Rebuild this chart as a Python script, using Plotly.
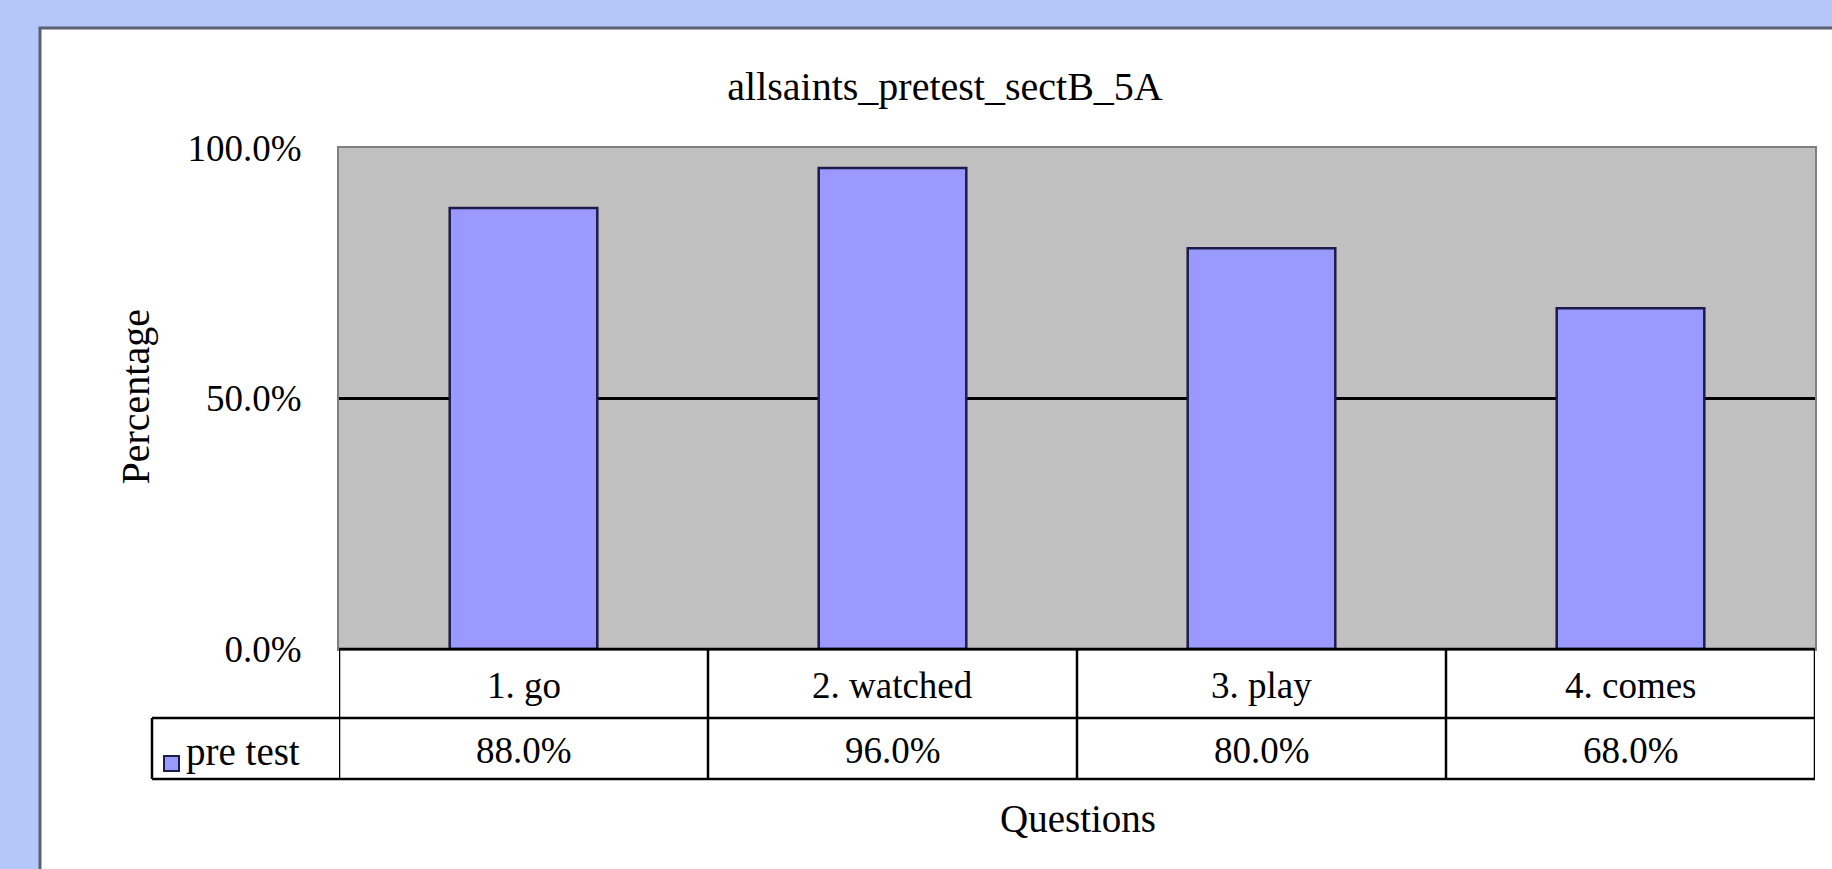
import plotly.graph_objects as go

# data
questions = ["1. go", "2. watched", "3. play", "4. comes"]
pre_test = [88.0, 96.0, 80.0, 68.0]
series_name = "pre test"
y_ticks = [0, 50, 100]
y_tick_text = [f"{t:.1f}%" for t in y_ticks]

W, H = 1832, 869
FONT = "Liberation Serif"
BAR = "#9999FF"
EDGE = "#1c1c48"


def px(x):
    return x / W


def py(y):
    return 1 - y / H


fig = go.Figure()

fig.add_trace(go.Bar(
    x=questions, y=pre_test, name=series_name, width=0.4,
    marker=dict(color=BAR, line=dict(color=EDGE, width=2.5)),
    hovertemplate="%{x}: %{y:.1f}%<extra></extra>",
))

# ── white chart panel on the blue slide, grey plot area on top of it ───────
fig.add_shape(type="rect", xref="paper", yref="paper",
              x0=px(40), x1=1.02, y0=-0.02, y1=py(28),
              fillcolor="white", line=dict(color="#5a6170", width=3),
              layer="below")
fig.add_shape(type="rect", xref="x domain", yref="y domain",
              x0=0, x1=1, y0=0, y1=1,
              fillcolor="#C0C0C0", line=dict(width=0), layer="below")

# ── data table under the plot ──────────────────────────────────────────────
line = dict(color="black", width=2.5)
y_top, y_mid, y_bot = py(649), py(718), py(779)
for y in (y_top, y_mid, y_bot):
    x0 = px(339) if y == y_top else px(152)
    fig.add_shape(type="line", xref="paper", yref="paper",
                  x0=x0, x1=px(1815), y0=y, y1=y, line=line)
for k in range(len(questions) + 1):
    fig.add_shape(type="line", xref="x", yref="paper",
                  x0=k - 0.5, x1=k - 0.5, y0=y_top, y1=y_bot, line=line)
fig.add_shape(type="line", xref="paper", yref="paper",
              x0=px(152), x1=px(152), y0=y_mid, y1=y_bot, line=line)

tfont = dict(family=FONT, size=37, color="black")
for q, v in zip(questions, pre_test):
    fig.add_annotation(x=q, xref="x", y=py(685), yref="paper",
                       text=q, showarrow=False, font=tfont, yanchor="middle")
    fig.add_annotation(x=q, xref="x", y=py(750), yref="paper",
                       text=f"{v:.1f}%", showarrow=False, font=tfont, yanchor="middle")

# legend key inside the table
fig.add_shape(type="rect", xref="paper", yref="paper",
              x0=px(164), x1=px(179), y0=py(771), y1=py(756),
              fillcolor=BAR, line=dict(color=EDGE, width=2))
fig.add_annotation(x=px(184), y=py(752), xref="paper", yref="paper",
                   text=series_name, showarrow=False,
                   font=dict(family=FONT, size=39, color="black"),
                   xanchor="left", yanchor="middle")

# axis titles
fig.add_annotation(x=px(111), y=py(397), xref="paper", yref="paper",
                   text="Percentage", textangle=-90, showarrow=False,
                   font=dict(family=FONT, size=40, color="black"))
fig.add_annotation(x=px(1078), y=py(842), xref="paper", yref="paper",
                   text="Questions", showarrow=False,
                   font=dict(family=FONT, size=39, color="black"))

fig.update_layout(
    width=W, height=H,
    margin=dict(l=0, r=0, t=0, b=0),
    paper_bgcolor="#B4C7F8",
    plot_bgcolor="#C0C0C0",
    showlegend=False,
    bargap=0.6,
    title=dict(text="allsaints_pretest_sectB_5A", x=px(945), y=py(86),
               xanchor="center", yanchor="middle",
               font=dict(family=FONT, size=40, color="black")),
    xaxis=dict(domain=[px(339), px(1815)], range=[-0.5, len(questions) - 0.5],
               showticklabels=False, ticks="", showgrid=False, zeroline=False,
               automargin=False,
               showline=True, mirror=True, linecolor="#7f7f7f", linewidth=2),
    yaxis=dict(domain=[py(649), py(148)], range=[0, 100],
               tickvals=y_ticks, ticktext=y_tick_text,
               tickfont=tfont, ticks="", ticklabelstandoff=28, automargin=False,
               showgrid=True, gridcolor="black", gridwidth=2.5, zeroline=False,
               showline=True, mirror=True, linecolor="#7f7f7f", linewidth=2),
)

fig.write_html("out.html", config={"displayModeBar": False},
               post_script="document.body.style.margin='0';"
                           "document.body.style.overflow='hidden';")
